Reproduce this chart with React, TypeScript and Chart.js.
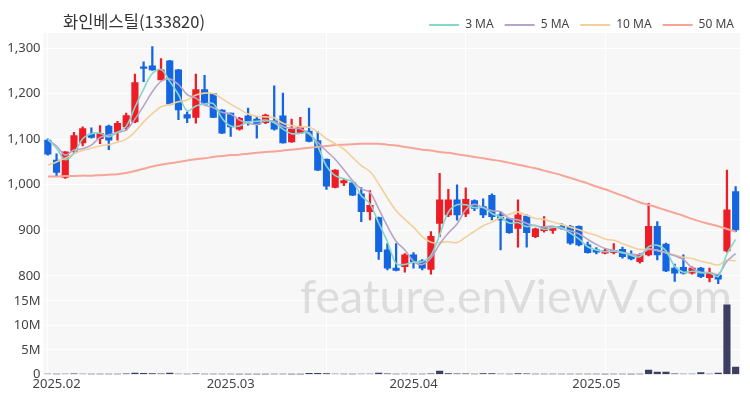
import React, { useEffect, useRef } from "react";
import { Chart, registerables } from "chart.js";

Chart.register(...registerables);

const title = "화인베스틸(133820)";
const watermark = "feature.enViewV.com";

const dates = [
  "2025-01-31",
  "2025-02-03", "2025-02-04", "2025-02-05", "2025-02-06", "2025-02-07", "2025-02-10", "2025-02-11", "2025-02-12", "2025-02-13", "2025-02-14",
  "2025-02-17", "2025-02-18", "2025-02-19", "2025-02-20", "2025-02-21", "2025-02-24", "2025-02-25", "2025-02-26", "2025-02-27", "2025-02-28",
  "2025-03-03", "2025-03-04", "2025-03-05", "2025-03-06", "2025-03-07", "2025-03-10", "2025-03-11", "2025-03-12", "2025-03-13", "2025-03-14",
  "2025-03-17", "2025-03-18", "2025-03-19", "2025-03-20", "2025-03-21", "2025-03-24", "2025-03-25", "2025-03-26", "2025-03-27", "2025-03-28", "2025-03-31",
  "2025-04-01", "2025-04-02", "2025-04-03", "2025-04-04", "2025-04-07", "2025-04-08", "2025-04-09", "2025-04-10", "2025-04-11", "2025-04-14",
  "2025-04-15", "2025-04-16", "2025-04-17", "2025-04-18", "2025-04-21", "2025-04-22", "2025-04-23", "2025-04-24", "2025-04-25", "2025-04-28", "2025-04-29",
  "2025-05-02", "2025-05-07", "2025-05-08", "2025-05-09", "2025-05-12", "2025-05-13", "2025-05-14", "2025-05-15", "2025-05-16", "2025-05-19",
  "2025-05-20", "2025-05-21", "2025-05-22", "2025-05-23", "2025-05-26", "2025-05-27", "2025-05-28",
];

const opens = [
  1098, 1054, 1016, 1073, 1092, 1111, 1101, 1129, 1116, 1127,
  1138, 1259, 1261, 1230, 1272, 1252, 1154, 1148, 1209, 1200,
  1164, 1157, 1122, 1151, 1144, 1136, 1140, 1151, 1094, 1113,
  1118, 1097, 1056, 994, 1004, 1004, 980, 941, 928, 857,
  817, 820, 846, 833, 814, 915, 934, 967, 936, 965,
  952, 977, 934, 926, 904, 931, 886, 899, 900, 909,
  908, 909, 868, 857, 850, 851, 858, 846, 831, 846,
  909, 870, 817, 819, 806, 817, 796, 802, 855, 985,
];
const highs = [
  1101, 1068, 1073, 1115, 1127, 1125, 1130, 1131, 1139, 1157,
  1243, 1270, 1303, 1277, 1273, 1253, 1160, 1243, 1240, 1200,
  1165, 1157, 1148, 1168, 1149, 1155, 1217, 1201, 1144, 1148,
  1168, 1117, 1057, 1033, 1013, 1005, 994, 987, 929, 871,
  871, 849, 851, 836, 897, 1025, 990, 1000, 993, 967,
  969, 980, 941, 927, 967, 934, 905, 930, 909, 915,
  911, 910, 874, 862, 858, 871, 863, 855, 849, 959,
  919, 872, 826, 846, 820, 819, 817, 803, 1032, 996,
];
const lows = [
  1065, 1020, 1014, 1070, 1085, 1102, 1090, 1077, 1098, 1120,
  1136, 1226, 1251, 1230, 1175, 1143, 1136, 1135, 1175, 1147,
  1112, 1106, 1120, 1131, 1102, 1134, 1120, 1091, 1093, 1112,
  1094, 1031, 990, 993, 998, 976, 919, 923, 836, 813,
  811, 808, 817, 813, 804, 886, 930, 922, 930, 943,
  928, 923, 857, 893, 863, 863, 884, 896, 893, 902,
  869, 866, 850, 848, 848, 848, 839, 835, 828, 844,
  835, 809, 788, 804, 804, 796, 787, 783, 852, 897,
];
const closes = [
  1067, 1027, 1072, 1108, 1123, 1104, 1113, 1098, 1135, 1152,
  1224, 1255, 1252, 1252, 1177, 1164, 1146, 1209, 1177, 1148,
  1113, 1127, 1146, 1140, 1132, 1153, 1122, 1092, 1122, 1126,
  1095, 1032, 997, 1032, 1009, 977, 941, 955, 853, 817,
  812, 846, 831, 817, 887, 967, 967, 934, 968, 948,
  934, 930, 923, 895, 934, 895, 903, 908, 906, 904,
  872, 868, 851, 852, 855, 856, 842, 837, 846, 909,
  846, 811, 806, 806, 817, 798, 806, 793, 945, 901,
];
// volume in millions of shares
const volumes = [
  0.1, 0.08, 0.1, 0.12, 0.1, 0.06, 0.08, 0.06, 0.08, 0.15,
  0.3, 0.25, 0.2, 0.15, 0.3, 0.1, 0.06, 0.12, 0.08, 0.06,
  0.05, 0.05, 0.04, 0.04, 0.04, 0.04, 0.08, 0.06, 0.04, 0.04,
  0.25, 0.25, 0.2, 0.1, 0.08, 0.06, 0.1, 0.1, 0.3, 0.15,
  0.08, 0.1, 0.06, 0.06, 0.15, 0.7, 0.2, 0.15, 0.12, 0.08,
  0.2, 0.2, 0.1, 0.08, 0.2, 0.15, 0.06, 0.08, 0.05, 0.05,
  0.08, 0.06, 0.05, 0.05, 0.04, 0.06, 0.05, 0.04, 0.06, 0.9,
  0.5, 0.5, 0.15, 0.1, 0.1, 0.4, 0.1, 0.3, 14.2, 1.5,
];

const ma3 = [
  1100, 1080, 1055, 1069, 1101, 1112, 1113, 1105, 1115, 1128,
  1170, 1210, 1244, 1253, 1227, 1198, 1162, 1173, 1177, 1178,
  1146, 1129, 1129, 1138, 1139, 1142, 1136, 1122, 1112, 1113,
  1114, 1084, 1041, 1020, 1013, 1006, 976, 958, 916, 875,
  827, 825, 830, 831, 845, 890, 940, 956, 956, 950,
  950, 937, 929, 916, 917, 908, 911, 902, 906, 906,
  894, 881, 864, 857, 853, 854, 851, 845, 842, 864,
  867, 855, 821, 808, 810, 807, 807, 799, 848, 880,
];
const ma5 = [
  1098, 1085, 1065, 1076, 1079, 1087, 1104, 1109, 1115, 1120,
  1144, 1173, 1204, 1227, 1232, 1220, 1198, 1190, 1175, 1169,
  1159, 1155, 1142, 1135, 1132, 1140, 1139, 1128, 1124, 1123,
  1111, 1093, 1074, 1056, 1033, 1009, 991, 983, 947, 909,
  876, 857, 832, 825, 839, 870, 894, 914, 945, 957,
  950, 943, 941, 926, 923, 915, 910, 907, 909, 903,
  899, 892, 880, 869, 860, 856, 851, 848, 847, 858,
  856, 850, 844, 836, 817, 808, 807, 804, 832, 849,
];
const ma10 = [
  1043, 1050, 1058, 1068, 1075, 1080, 1085, 1088, 1093, 1100,
  1116, 1138, 1156, 1171, 1176, 1182, 1186, 1197, 1201, 1200,
  1189, 1177, 1166, 1155, 1150, 1149, 1147, 1135, 1130, 1127,
  1126, 1116, 1101, 1090, 1078, 1060, 1042, 1029, 1002, 971,
  943, 924, 907, 886, 874, 873, 875, 873, 885, 898,
  910, 918, 928, 935, 940, 933, 926, 924, 918, 913,
  907, 901, 894, 889, 881, 878, 871, 864, 858, 859,
  856, 851, 846, 841, 838, 832, 828, 824, 834, 833,
];
const ma50 = [
  1018, 1018, 1019, 1019, 1020, 1020, 1021, 1022, 1023, 1026,
  1030, 1035, 1040, 1044, 1047, 1050, 1053, 1056, 1058, 1061,
  1063, 1065, 1066, 1068, 1070, 1072, 1073, 1075, 1077, 1079,
  1081, 1083, 1085, 1087, 1088, 1089, 1090, 1090, 1090, 1088,
  1086, 1083, 1080, 1077, 1075, 1072, 1070, 1067, 1064, 1061,
  1058, 1055, 1052, 1048, 1044, 1040, 1036, 1031, 1026, 1021,
  1015, 1009, 1003, 996, 990, 983, 976, 969, 961, 956,
  950, 944, 938, 932, 925, 919, 914, 909, 903, 897,
];

const maNames = ["3 MA", "5 MA", "10 MA", "50 MA"];
const maColors = ["#86d6cb", "#b7a5c9", "#f3d09a", "#f6a596"];
const priceTicks = [800, 900, 1000, 1100, 1200, 1300];
const volumeTicks = [0, 5, 10, 15];

const UP = "#ee1c25";
const DOWN = "#1466e0";
const FONT = '"Noto Sans", "Noto Sans CJK KR", sans-serif';

export default function App() {
  const ref = useRef<HTMLCanvasElement | null>(null);

  useEffect(() => {
    document.body.style.margin = "0";
    const canvas = ref.current;
    if (!canvas) return;
    const candleColors = closes.map((c, i) => (c >= opens[i] ? UP : DOWN));

    const decor = {
      id: "decor",
      beforeDraw(chart: any) {
        const { ctx, chartArea: a } = chart;
        ctx.save();
        ctx.fillStyle = "#f7f7f8";
        ctx.fillRect(a.left, a.top, a.right - a.left, a.bottom - a.top);
        ctx.restore();
      },
      beforeDatasetsDraw(chart: any) {
        const { ctx } = chart;
        ctx.save();
        ctx.font = `46px Lato, ${FONT}`;
        const w = ctx.measureText(watermark).width;
        const size = 46 * (432 / w);
        ctx.font = `${size}px Lato, ${FONT}`;
        ctx.fillStyle = "rgba(160,160,160,0.3)";
        ctx.textBaseline = "alphabetic";
        ctx.textAlign = "left";
        ctx.fillText(watermark, 300, 313);
        ctx.restore();
      },
      afterDraw(chart: any) {
        const { ctx } = chart;
        ctx.save();
        ctx.font = `16.5px "Noto Sans CJK KR", sans-serif`;
        ctx.fillStyle = "#333";
        ctx.textBaseline = "middle";
        ctx.textAlign = "left";
        ctx.fillText(title, 63, 22);

        ctx.font = `12px ${FONT}`;
        const lineW = 30;
        const gap1 = 6;
        const gap2 = 11;
        const widths = maNames.map((n) => ctx.measureText(n).width);
        let total = 0;
        widths.forEach((w, i) => {
          total += lineW + gap1 + w + (i < widths.length - 1 ? gap2 : 0);
        });
        let x = 734 - total;
        const y = 25;
        maNames.forEach((n, i) => {
          ctx.strokeStyle = maColors[i];
          ctx.lineWidth = 2;
          ctx.beginPath();
          ctx.moveTo(x, y);
          ctx.lineTo(x + lineW, y);
          ctx.stroke();
          ctx.fillStyle = "#444";
          ctx.fillText(n, x + lineW + gap1, y);
          x += lineW + gap1 + widths[i] + gap2;
        });
        ctx.restore();
      },
    };

    const maSeries = [ma3, ma5, ma10, ma50];

    const chart = new Chart(canvas, {
      type: "bar",
      data: {
        labels: dates,
        datasets: [
          ...maSeries.map((d, i) => ({
            type: "line" as const,
            label: maNames[i],
            data: d,
            borderColor: maColors[i],
            borderWidth: i === 3 ? 2 : 1.6,
            pointRadius: 0,
            tension: 0.35,
            yAxisID: "y",
            order: 0,
          })),
          {
            type: "bar" as const,
            label: "body",
            data: opens.map((o, i) => [o, closes[i]]),
            backgroundColor: candleColors,
            barThickness: 6.5,
            minBarLength: 1.5,
            grouped: false,
            yAxisID: "y",
            order: 1,
          },
          {
            type: "bar" as const,
            label: "wick",
            data: lows.map((l, i) => [l, highs[i]]),
            backgroundColor: candleColors,
            barThickness: 1.6,
            grouped: false,
            yAxisID: "y",
            order: 2,
          },
          {
            type: "bar" as const,
            label: "volume",
            data: volumes,
            backgroundColor: "#3c3f62",
            barThickness: 6.5,
            grouped: false,
            yAxisID: "yv",
            order: 3,
          },
        ],
      },
      options: {
        responsive: false,
        animation: false,
        layout: { padding: { top: 33, right: 10, left: 0, bottom: 0 } },
        plugins: {
          legend: { display: false },
          tooltip: { enabled: false },
          title: { display: false },
        },
        scales: {
          x: {
            type: "category",
            offset: true,
            grid: {
              offset: false,
              drawTicks: false,
              color: (ctx: any) => (ctx.index % 16 === 0 ? "#ffffff" : "rgba(0,0,0,0)"),
              lineWidth: 1,
            },
            border: { display: false },
            ticks: {
              autoSkip: false,
              maxRotation: 0,
              minRotation: 0,
              padding: 2,
              color: "#444",
              font: { size: 13, family: FONT },
              callback: (_v: any, index: number) => {
                if (index === 0) return "";
                const d = dates[index].slice(0, 7);
                const p = dates[index - 1].slice(0, 7);
                return d !== p ? d.replace("-", ".") : "";
              },
            },
            afterFit: (scale: any) => {
              scale.height = 25.5;
            },
          },
          y: {
            type: "linear",
            position: "left",
            stack: "panels",
            stackWeight: 257,
            weight: 2,
            min: 769,
            max: 1333,
            grid: { color: "#ffffff", drawTicks: false, lineWidth: 1 },
            border: { display: false },
            afterBuildTicks: (scale: any) => {
              scale.ticks = priceTicks.map((v) => ({ value: v }));
            },
            ticks: {
              autoSkip: false,
              padding: 3,
              color: "#444",
              font: { size: 13, family: FONT },
              callback: (v: any) => Number(v).toLocaleString("en-US"),
            },
            afterFit: (scale: any) => {
              scale.width = 43.5;
            },
          },
          yv: {
            type: "linear",
            position: "left",
            stack: "panels",
            stackWeight: 84.5,
            weight: 1,
            min: 0,
            max: 17.2,
            grid: { color: "#ffffff", drawTicks: false, lineWidth: 1 },
            border: { display: false },
            afterBuildTicks: (scale: any) => {
              scale.ticks = volumeTicks.map((v) => ({ value: v }));
            },
            ticks: {
              autoSkip: false,
              padding: 3,
              color: "#444",
              font: { size: 13, family: FONT },
              callback: (v: any) => (Number(v) === 0 ? "0" : `${v}M`),
            },
            afterFit: (scale: any) => {
              scale.width = 43.5;
            },
          },
        },
      },
      plugins: [decor],
    } as any);

    return () => chart.destroy();
  }, []);

  return (
    <div style={{ width: 750, height: 400, background: "#ffffff" }}>
      <canvas ref={ref} width={750} height={400} style={{ display: "block" }} />
    </div>
  );
}
